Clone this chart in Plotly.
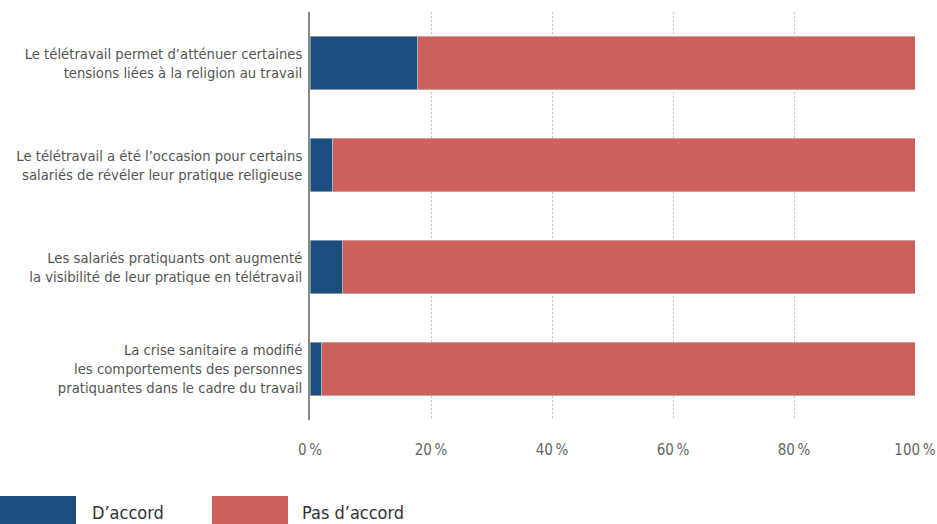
import plotly.graph_objects as go

categories = [
    "Le télétravail permet d’atténuer certaines<br>tensions liées à la religion au travail",
    "Le télétravail a été l’occasion pour certains<br>salariés de révéler leur pratique religieuse",
    "Les salariés pratiquants ont augmenté<br>la visibilité de leur pratique en télétravail",
    "La crise sanitaire a modifié<br>les comportements des personnes<br>pratiquantes dans le cadre du travail",
]
d_accord = [17.8, 3.8, 5.3, 1.9]
pas_d_accord = [100 - v for v in d_accord]
series_names = ["D’accord", "Pas d’accord"]
tick_vals = [0, 20, 40, 60, 80, 100]
tick_text = ["0\u202f%", "20\u202f%", "40\u202f%", "60\u202f%", "80\u202f%", "100\u202f%"]

BLUE = "#1b4e7f"
RED = "#cd605a"
FONT = "Liberation Sans Narrow, DejaVu Sans Condensed, Roboto, sans-serif"

W, H = 937, 524
ML, MR, MT, MB = 310, 22, 12, 104

fig = go.Figure()
for name, vals, col in [(series_names[0], d_accord, BLUE), (series_names[1], pas_d_accord, RED)]:
    fig.add_trace(go.Bar(
        y=categories, x=vals, orientation="h", name=name,
        marker=dict(color=col, line=dict(color="#c8c8c8", width=0.6)),
        showlegend=False,
    ))

fig.update_layout(
    width=W, height=H,
    margin=dict(l=ML, r=MR, t=MT, b=MB, pad=0),
    barmode="stack", bargap=0.475,
    plot_bgcolor="white", paper_bgcolor="white",
    font=dict(family=FONT, size=15, color="#555555"),
    xaxis=dict(
        range=[0, 100], tickvals=tick_vals, ticktext=tick_text,
        showgrid=True, gridcolor="#c6c6c6", griddash="2px,2px", gridwidth=1,
        zeroline=False, showline=False, automargin=False,
        ticks="outside", ticklen=16, tickcolor="rgba(0,0,0,0)",
        tickfont=dict(size=15, color="#666666"),
        fixedrange=True,
    ),
    yaxis=dict(
        autorange="reversed", showline=True, linecolor="#888888", linewidth=1.5,
        ticks="outside", ticklen=3, tickcolor="rgba(0,0,0,0)",
        tickfont=dict(size=14.7, color="#555555"), automargin=False,
        showgrid=False, fixedrange=True,
    ),
)

plot_w = W - ML - MR
plot_h = H - MT - MB
def paper_x(p):
    return (p - ML) / plot_w
def paper_y(p):
    return (H - MB - p) / plot_h

legend_items = [(0, 90, BLUE, series_names[0]), (212, 300, RED, series_names[1])]
for x0, tx, col, label in legend_items:
    fig.add_shape(type="rect", xref="paper", yref="paper",
                  x0=paper_x(x0), x1=paper_x(x0 + 76),
                  y0=paper_y(524), y1=paper_y(496),
                  fillcolor=col, line=dict(width=0))
    fig.add_annotation(xref="paper", yref="paper", x=paper_x(tx), y=paper_y(512),
                       text=label, showarrow=False, xanchor="left", yanchor="middle",
                       font=dict(family=FONT, size=18, color="#333333"))

fig.write_html("out.html", config={"displayModeBar": False},
               post_script="document.body.style.margin='0';")
